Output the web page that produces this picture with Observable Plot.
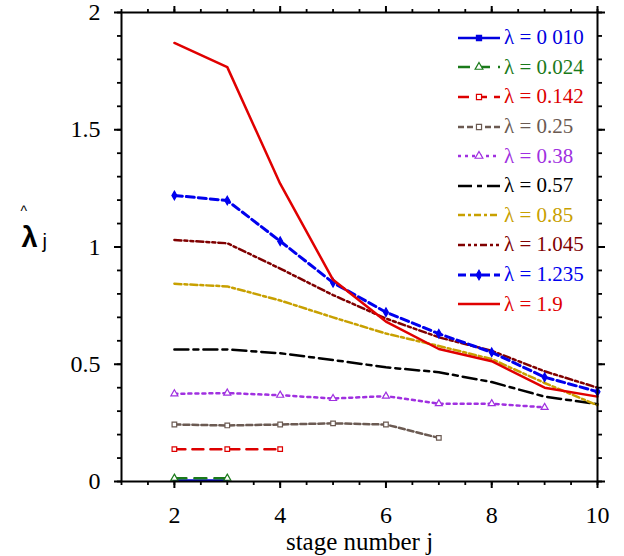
<!DOCTYPE html>
<html>
<head>
<meta charset="utf-8">
<script src="https://cdn.jsdelivr.net/npm/d3@7"></script>
<script src="https://cdn.jsdelivr.net/npm/@observablehq/plot@0.6"></script>
<style>
  html, body { margin: 0; padding: 0; background: #fff; }
  #wrap { position: relative; width: 624px; height: 556px; }
  #legend { position: absolute; left: 456px; top: 23px; font-family: "Liberation Serif", "Times New Roman", serif; font-size: 21px; }
  .row { height: 29.6px; display: flex; align-items: center; white-space: nowrap; }
  .row svg { display: block; margin-right: 2px; }
</style>
</head>
<body>
<div id="wrap"></div>
<script>
// ---- data ----
const stages = [2, 3, 4, 5, 6, 7, 8, 9, 10];
const lambdaLabels = ["λ = 0 010", "λ = 0.024", "λ = 0.142", "λ = 0.25", "λ = 0.38",
                      "λ = 0.57", "λ = 0.85", "λ = 1.045", "λ = 1.235", "λ = 1.9"];
const lam010  = [0.004, 0.004];
const lam024  = [0.014, 0.014];
const lam142  = [0.138, 0.138, 0.138];
const lam25   = [0.243, 0.239, 0.243, 0.248, 0.243, 0.186];
const lam38   = [0.374, 0.377, 0.368, 0.354, 0.364, 0.332, 0.332, 0.316];
const lam57   = [0.563, 0.563, 0.547, 0.518, 0.487, 0.466, 0.424, 0.362, 0.330];
const lam85   = [0.843, 0.832, 0.772, 0.700, 0.631, 0.578, 0.522, 0.420, 0.325];
const lam1045 = [1.030, 1.016, 0.908, 0.795, 0.695, 0.615, 0.557, 0.470, 0.400];
const lam1235 = [1.220, 1.198, 1.025, 0.848, 0.722, 0.630, 0.551, 0.445, 0.383];
const lam19   = [1.870, 1.767, 1.270, 0.860, 0.682, 0.565, 0.513, 0.400, 0.362];
const xTickLabels = [2, 4, 6, 8, 10];
const yTickLabels = [0, 0.5, 1, 1.5, 2];

const seriesValues = [lam010, lam024, lam142, lam25, lam38, lam57, lam85, lam1045, lam1235, lam19];

// ---- styles ----
const SERIF = '"Liberation Serif", "Times New Roman", serif';
const SANS = '"Liberation Sans", Arial, sans-serif';
const styles = [
  {color: "#0000e0", width: 2.5, dash: null,            symbol: "square",   fill: "#0000e0", markAll: false},
  {color: "#1a7a1a", width: 2.5, dash: "12,8",          symbol: "triangle", fill: "white",   markAll: true},
  {color: "#dd0000", width: 2.5, dash: "11,7",          symbol: "square",   fill: "white",   markAll: true},
  {color: "#6b5a52", width: 2.5, dash: "6,3",           symbol: "square",   fill: "white",   markAll: true},
  {color: "#a030e0", width: 2.5, dash: "3,4",           symbol: "triangle", fill: "white",   markAll: true},
  {color: "#000000", width: 2.5, dash: "14,5,5,5",      symbol: null},
  {color: "#c8a000", width: 2.5, dash: "7,3,3,3",       symbol: null},
  {color: "#800000", width: 2.5, dash: "7,3,3,3,3,3",   symbol: null},
  {color: "#0000ee", width: 3,   dash: "8,4",           symbol: "diamond",  fill: "#0000ee", markAll: true},
  {color: "#e00000", width: 2.5, dash: null,            symbol: null}
];

const marks = [];
seriesValues.forEach((vals, i) => {
  const rows = vals.map((v, k) => ({x: stages[k], y: v}));
  const s = styles[i];
  marks.push(Plot.line(rows, {x: "x", y: "y", stroke: s.color, strokeWidth: s.width,
    strokeDasharray: s.dash || undefined, strokeLinejoin: "round"}));
  if (s.symbol && s.markAll) {
    marks.push(Plot.dot(rows, {x: "x", y: "y", symbol: () => s.symbol, r: 2.6,
      stroke: s.color, fill: s.fill, strokeWidth: 1.2}));
  }
});

const xMinor = d3.range(1, 10.001, 0.5);
const yMinor = d3.range(0, 2.0001, 0.1);
const fmt = d => String(d);

const chart = Plot.plot({
  width: 624,
  height: 556,
  marginLeft: 121,
  marginRight: 27,
  marginTop: 12,
  marginBottom: 75,
  style: {fontFamily: SERIF, fontSize: "24px", color: "black", background: "white", overflow: "visible"},
  x: {domain: [1, 10]},
  y: {domain: [0, 2]},
  marks: [
    ...marks,
    Plot.frame({stroke: "black", strokeWidth: 2}),
    Plot.axisX(xTickLabels, {anchor: "bottom", tickSize: 7, tickPadding: 17, strokeWidth: 2, label: null, fontSize: 24, tickFormat: fmt, fontFamily: SERIF}),
    Plot.axisX(xMinor, {anchor: "bottom", tickSize: 4, tickFormat: () => "", strokeWidth: 1.8, label: null}),
    Plot.axisX(xTickLabels, {anchor: "top", tickSize: 7, tickFormat: () => "", strokeWidth: 2, label: null}),
    Plot.axisX(xMinor, {anchor: "top", tickSize: 4, tickFormat: () => "", strokeWidth: 1.8, label: null}),
    Plot.axisY(yTickLabels, {anchor: "left", tickSize: 7, tickPadding: 14, strokeWidth: 2, label: null, fontSize: 24, tickFormat: fmt, fontFamily: SERIF}),
    Plot.axisY(yMinor, {anchor: "left", tickSize: 4, tickFormat: () => "", strokeWidth: 1.8, label: null}),
    Plot.axisY(yTickLabels, {anchor: "right", tickSize: 7, tickFormat: () => "", strokeWidth: 2, label: null}),
    Plot.axisY(yMinor, {anchor: "right", tickSize: 4, tickFormat: () => "", strokeWidth: 1.8, label: null}),
    Plot.text(["stage number j"], {frameAnchor: "bottom", dy: 60, text: d => d, fontSize: 25, lineAnchor: "middle", fontFamily: SERIF}),
    Plot.text(["\u03BB"], {frameAnchor: "left", dx: -100, dy: -9, text: d => d, fontSize: 29, fontWeight: "bold", fontFamily: SANS, lineAnchor: "middle"}),
    Plot.text(["^"], {frameAnchor: "left", dx: -101, dy: -35, text: d => d, fontSize: 14, fontFamily: SANS, lineAnchor: "middle"}),
    Plot.text(["j"], {frameAnchor: "left", dx: -79, dy: -5, text: d => d, fontSize: 20, fontFamily: SANS, lineAnchor: "middle"})
  ]
});

const wrap = document.getElementById("wrap");
wrap.appendChild(chart);

// ---- legend ----
const legend = document.createElement("div");
legend.id = "legend";
lambdaLabels.forEach((lab, i) => {
  const s = styles[i];
  const row = document.createElement("div");
  row.className = "row";
  const svg = d3.create("svg").attr("width", 46).attr("height", 20);
  svg.append("line").attr("x1", 2).attr("x2", 44).attr("y1", 10).attr("y2", 10)
    .attr("stroke", s.color).attr("stroke-width", s.width)
    .attr("stroke-dasharray", s.dash);
  if (s.symbol) {
    const sym = {square: d3.symbolSquare, triangle: d3.symbolTriangle, diamond: d3.symbolDiamond}[s.symbol];
    svg.append("path").attr("transform", "translate(23,10)")
      .attr("d", d3.symbol(sym, 26)())
      .attr("fill", s.fill).attr("stroke", s.color).attr("stroke-width", 1.2);
  }
  row.appendChild(svg.node());
  const span = document.createElement("span");
  span.textContent = lab;
  span.style.color = s.color;
  row.appendChild(span);
  legend.appendChild(row);
});
wrap.appendChild(legend);
</script>
</body>
</html>
